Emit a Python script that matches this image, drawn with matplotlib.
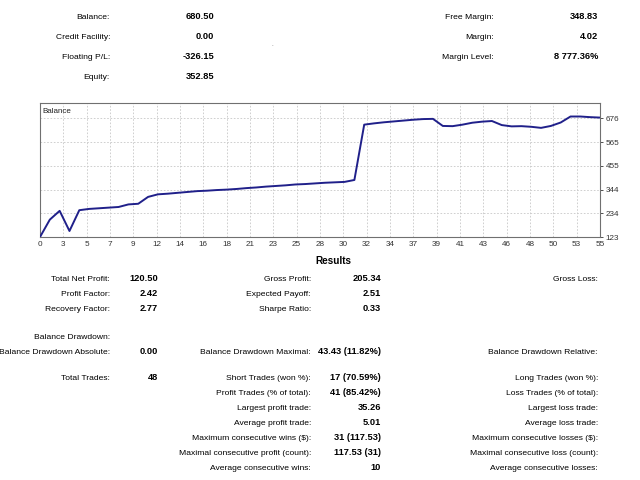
import matplotlib
matplotlib.use("Agg")
import matplotlib.pyplot as plt

# balance curve, one value per trade index
balance = [123, 204, 245, 151, 248, 254, 257, 260, 263, 275, 278, 310, 322, 325, 329,
           333, 337, 339, 342, 344, 347, 351, 354, 358, 361, 364, 368, 370, 373, 376,
           378, 380, 389, 647, 653, 658, 662, 666, 670, 673, 674, 641, 640, 647, 656,
           661, 664, 645, 639, 640, 637, 632, 641, 657, 685, 685, 682, 680]
x_labels = ["0", "3", "5", "7", "9", "12", "14", "16", "18", "21", "23", "25", "28",
            "30", "32", "34", "37", "39", "41", "43", "46", "48", "50", "53", "55"]
y_ticks = [123, 234, 344, 455, 565, 676]

acc_left_labels = ["Balance:", "Credit Facility:", "Floating P/L:", "Equity:"]
acc_left_values = ["680.50", "0.00", "-326.15", "352.85"]
acc_right_labels = ["Free Margin:", "Margin:", "Margin Level:"]
acc_right_values = ["348.83", "4.02", "8 777.36%"]

res_left_labels = ["Total Net Profit:", "Profit Factor:", "Recovery Factor:"]
res_left_values = ["120.50", "2.42", "2.77"]
res_mid_labels = ["Gross Profit:", "Expected Payoff:", "Sharpe Ratio:"]
res_mid_values = ["205.34", "2.51", "0.33"]
res_right_labels = ["Gross Loss:"]

dd_labels = ["Balance Drawdown Absolute:", "Balance Drawdown Maximal:", "Balance Drawdown Relative:"]
dd_values = ["0.00", "43.43 (11.82%)"]

trades_mid_labels = ["Short Trades (won %):", "Profit Trades (% of total):", "Largest profit trade:",
                     "Average profit trade:", "Maximum consecutive wins ($):",
                     "Maximal consecutive profit (count):", "Average consecutive wins:"]
trades_mid_values = ["17 (70.59%)", "41 (85.42%)", "35.26", "5.01", "31 (117.53)",
                     "117.53 (31)", "10"]
trades_right_labels = ["Long Trades (won %):", "Loss Trades (% of total):", "Largest loss trade:",
                       "Average loss trade:", "Maximum consecutive losses ($):",
                       "Maximal consecutive loss (count):", "Average consecutive losses:"]

W, H = 640, 480
FONT = "Liberation Sans"


def __put(fig, x, y, s, bold=False, ha="right", size=None):
    # y is the visual middle of the row; text sits on a common baseline
    if size is None:
        size = 6.7 if bold else 6.1
    fig.text(x / W, 1 - (y + 3) / H, s, ha=ha, va="baseline", fontsize=size,
             fontweight="bold" if bold else "normal", family=FONT, color="black")


def __chart(fig):
    ax = fig.add_axes([40 / W, 1 - 237 / H, 560 / W, 134 / H])
    n = len(balance) - 1
    ax.plot(range(len(balance)), balance, color="#20208a", lw=1.4, zorder=3)
    ax.set_xlim(0, n)
    ax.set_ylim(123, 748)
    xt = [n * k / (len(x_labels) - 1) for k in range(len(x_labels))]
    ax.set_xticks(xt)
    ax.set_xticklabels(x_labels)
    ax.set_yticks(y_ticks)
    ax.yaxis.tick_right()
    ax.tick_params(axis="both", labelsize=5.9, colors="#333333", length=2, width=0.6, pad=2)
    ax.tick_params(axis="x", length=0, pad=3)
    for lbl in ax.get_xticklabels() + ax.get_yticklabels():
        lbl.set_family(FONT)
    ax.grid(True, color="#c8c8c8", linestyle=(0, (2, 2)), linewidth=0.6)
    for sp in ax.spines.values():
        sp.set_color("#707070")
        sp.set_linewidth(0.8)
    ax.text(0.004, 0.96, "Balance", transform=ax.transAxes, ha="left", va="top",
            fontsize=5.8, family=FONT, color="#222222")


def main():
    fig = plt.figure(figsize=(W / 100, H / 100), dpi=100)
    fig.patch.set_facecolor("white")

    for i, (lab, val) in enumerate(zip(acc_left_labels, acc_left_values)):
        y = 16 + 20 * i
        __put(fig, 110, y, lab)
        __put(fig, 214, y, val, bold=True)
    for i, (lab, val) in enumerate(zip(acc_right_labels, acc_right_values)):
        y = 16 + 20 * i
        __put(fig, 494, y, lab)
        __put(fig, 598, y, val, bold=True)
    fig.text(272 / W, 1 - 45 / H, ".", fontsize=4, color="#555555", ha="center", va="center")

    __chart(fig)

    __put(fig, 333, 261, "Results", bold=True, ha="center", size=7.2)
    for i in range(len(res_left_labels)):
        y = 278 + 15 * i
        __put(fig, 110, y, res_left_labels[i])
        __put(fig, 158, y, res_left_values[i], bold=True)
        __put(fig, 311, y, res_mid_labels[i])
        __put(fig, 381, y, res_mid_values[i], bold=True)
    __put(fig, 598, 278, res_right_labels[0])

    __put(fig, 110, 336, "Balance Drawdown:")
    __put(fig, 110, 351, dd_labels[0])
    __put(fig, 158, 351, dd_values[0], bold=True)
    __put(fig, 311, 351, dd_labels[1])
    __put(fig, 381, 351, dd_values[1], bold=True)
    __put(fig, 598, 351, dd_labels[2])

    __put(fig, 110, 377, "Total Trades:")
    __put(fig, 158, 377, "48", bold=True)
    for i in range(len(trades_mid_labels)):
        y = 377 + 15 * i
        __put(fig, 311, y, trades_mid_labels[i])
        __put(fig, 381, y, trades_mid_values[i], bold=True)
        __put(fig, 598, y, trades_right_labels[i])

    fig.savefig("out.png", dpi=100, facecolor="white")
    plt.close(fig)


if __name__ == "__main__":
    main()
